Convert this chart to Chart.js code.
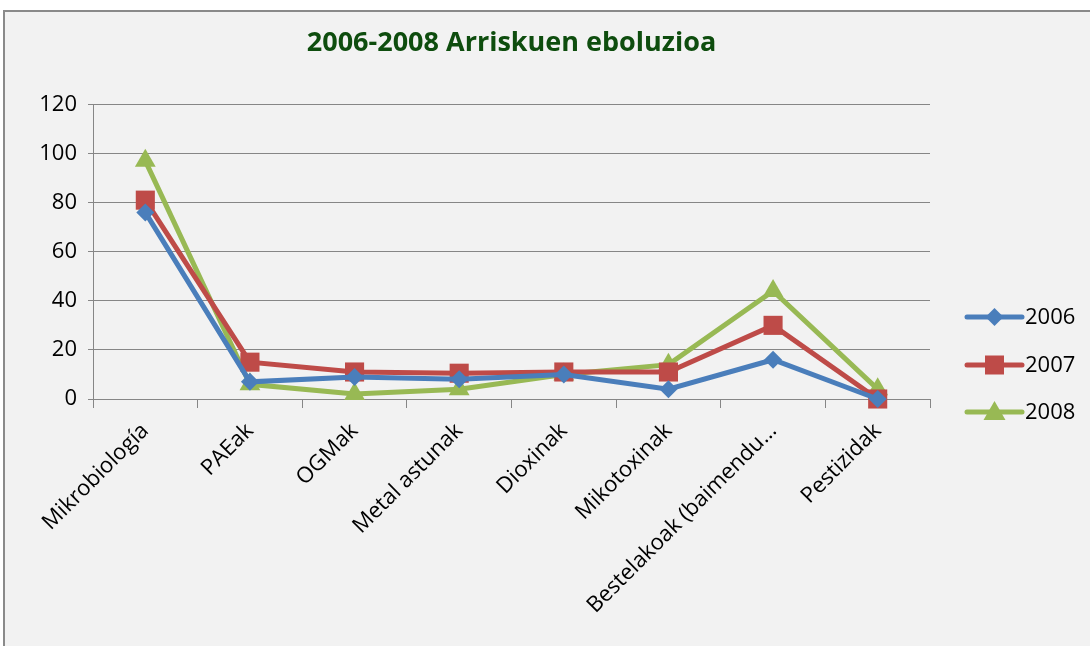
<!DOCTYPE html>
<html>
<head>
<meta charset="utf-8">
<script src="https://cdn.jsdelivr.net/npm/chart.js@4"></script>
<style>
  html, body { margin: 0; padding: 0; background: #fff; }
  #frame {
    position: absolute; left: 3px; top: 10px;
    width: 1085px; height: 634px;
    border-left: 2px solid #8a8a8a; border-top: 2px solid #8a8a8a;
    background: #f2f2f2;
  }
  canvas { display: block; }
</style>
</head>
<body>
<div id="frame"><canvas id="chart" width="1085" height="634"></canvas></div>
<script>
// categories and yearly values
const categories = ['Mikrobiología', 'PAEak', 'OGMak', 'Metal astunak', 'Dioxinak', 'Mikotoxinak', 'Bestelakoak (baimendu…', 'Pestizidak'];
const values2006 = [76, 7, 9, 8, 10, 4, 16, 0];
const values2007 = [81, 15, 11, 10.5, 11, 11, 30, 0];
const values2008 = [97, 6, 2, 4, 10, 14, 44, 4];
const yTicks = [0, 20, 40, 60, 80, 100, 120];

const seriesNames = ['2006', '2007', '2008'];
const seriesColors = ['#4a7ebb', '#be4b48', '#98b954'];
const seriesShapes = ['rectRot', 'rect', 'triangle'];
const seriesRadius = [9, 13.5, 12];

const fontFamily = "'Open Sans', 'DejaVu Sans', sans-serif";
const axisColor = '#868686';

function makeDataset(i, data) {
    return {
        label: seriesNames[i],
        data: data,
        borderColor: seriesColors[i],
        backgroundColor: seriesColors[i],
        borderWidth: 5,
        pointStyle: seriesShapes[i],
        pointRadius: seriesRadius[i],
        pointHoverRadius: seriesRadius[i],
        pointBorderWidth: 0,
        tension: 0,
        clip: false
    };
}

// draws the legend on the right: short line with the series marker in the middle
const sideLegend = {
    id: 'sideLegend',
    afterDraw(chart) {
        const ctx = chart.ctx;
        const rows = [305, 353, 400];
        ctx.save();
        chart.data.datasets.forEach((ds, i) => {
            const y = rows[i];
            const x0 = 962, x1 = 1017, cx = (x0 + x1) / 2;
            ctx.strokeStyle = ds.borderColor;
            ctx.lineWidth = 5;
            ctx.lineCap = 'round';
            ctx.beginPath();
            ctx.moveTo(x0, y);
            ctx.lineTo(x1, y);
            ctx.stroke();
            ctx.fillStyle = ds.backgroundColor;
            ctx.beginPath();
            if (ds.pointStyle === 'rectRot') {
                ctx.moveTo(cx, y - 9); ctx.lineTo(cx + 9, y); ctx.lineTo(cx, y + 9); ctx.lineTo(cx - 9, y);
            } else if (ds.pointStyle === 'rect') {
                ctx.rect(cx - 9.5, y - 9.5, 19, 19);
            } else {
                ctx.moveTo(cx, y - 11); ctx.lineTo(cx + 11, y + 8); ctx.lineTo(cx - 11, y + 8);
            }
            ctx.closePath();
            ctx.fill();
            ctx.fillStyle = '#000';
            ctx.font = '22px ' + fontFamily;
            ctx.textBaseline = 'middle';
            ctx.textAlign = 'left';
            ctx.fillText(ds.label, 1020, y + 1);
        });
        ctx.restore();
    }
};

new Chart(document.getElementById('chart'), {
    type: 'line',
    data: {
        labels: categories,
        datasets: [
            makeDataset(0, values2006),
            makeDataset(1, values2007),
            makeDataset(2, values2008)
        ]
    },
    plugins: [sideLegend],
    options: {
        responsive: false,
        animation: false,
        events: [],
        layout: { padding: { left: 0, right: 160, top: 0, bottom: 0 } },
        plugins: {
            legend: { display: false },
            tooltip: { enabled: false },
            title: {
                display: true,
                text: '2006-2008 Arriskuen eboluzioa',
                fullSize: false,
                color: '#0e4d0e',
                font: { family: fontFamily, size: 27, weight: 'bold' },
                padding: { top: 15, bottom: 45 }
            }
        },
        scales: {
            x: {
                offset: true,
                grid: { display: true, offset: true, drawOnChartArea: false, drawTicks: true, tickLength: 9, color: axisColor },
                border: { display: true, color: axisColor, width: 1 },
                ticks: {
                    autoSkip: false,
                    maxRotation: 45,
                    minRotation: 45,
                    padding: 10,
                    color: '#000',
                    font: { family: fontFamily, size: 22 }
                },
                afterFit(scale) { scale.height = 247; }
            },
            y: {
                min: 0,
                max: 120,
                afterBuildTicks(scale) { scale.ticks = yTicks.map(v => ({ value: v })); },
                grid: { color: axisColor, lineWidth: 1, drawTicks: true, tickLength: 5 },
                border: { display: true, color: axisColor, width: 1 },
                ticks: {
                    padding: 11,
                    color: '#000',
                    font: { family: fontFamily, size: 22 }
                },
                afterFit(scale) { scale.width = 88; }
            }
        }
    }
});
</script>
</body>
</html>
